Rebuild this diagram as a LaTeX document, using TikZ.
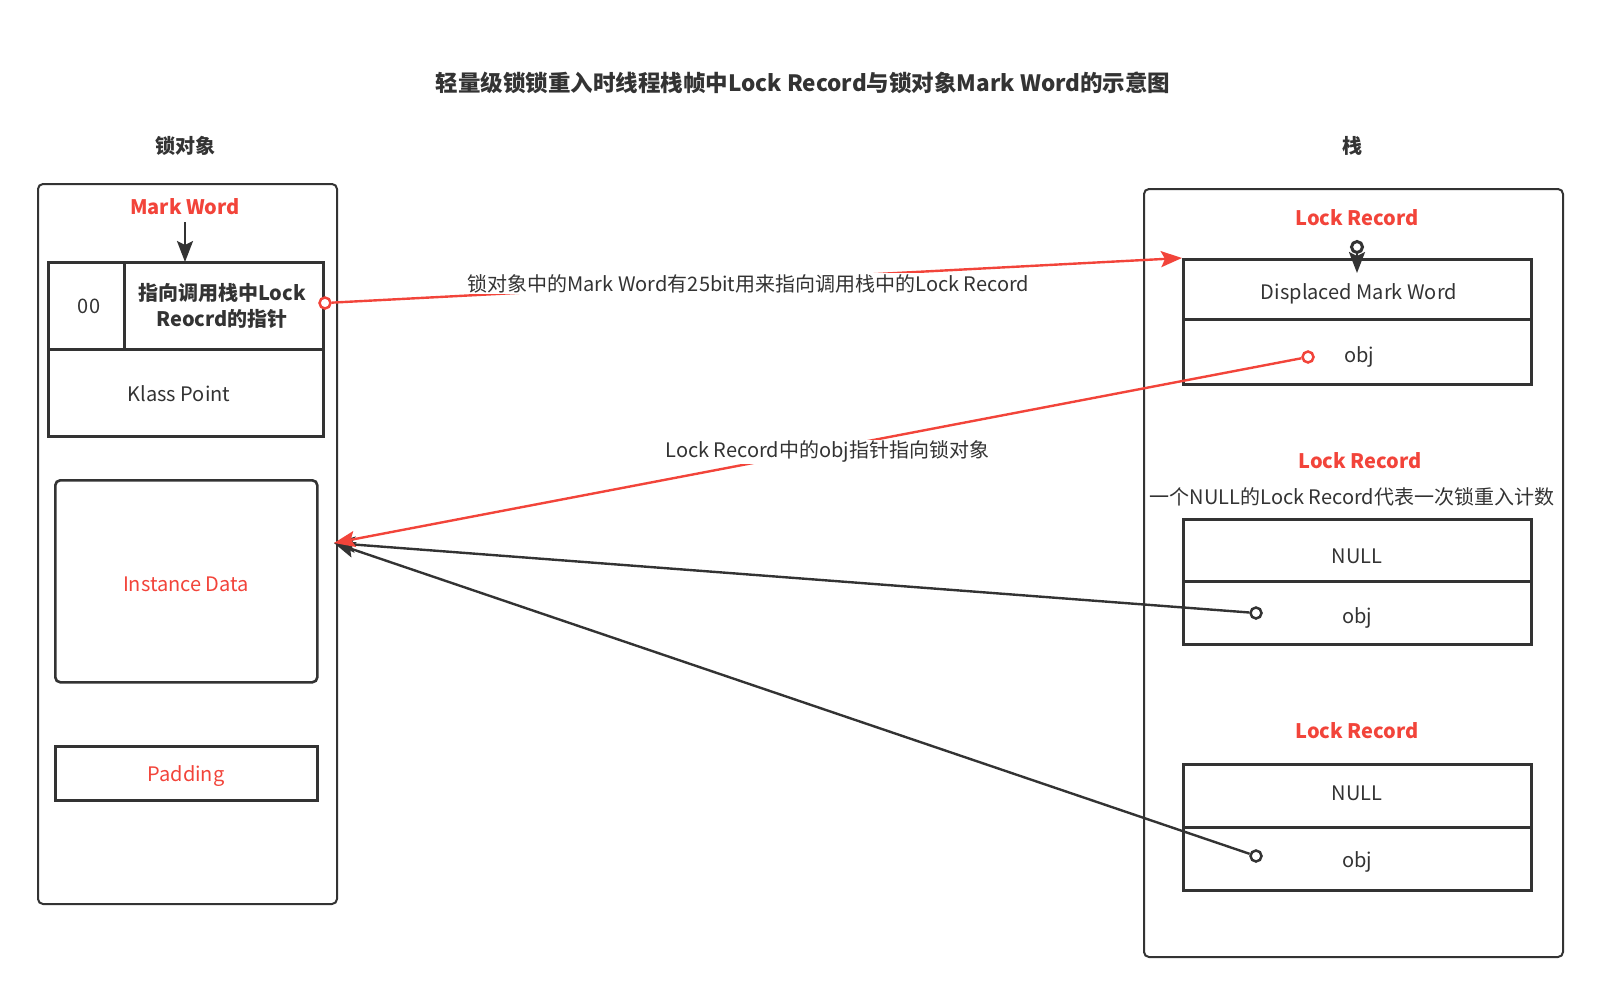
\documentclass[tikz,border=0pt]{standalone}
\usepackage{fontspec}
\setmainfont{Noto Sans CJK SC}
\usetikzlibrary{arrows.meta}
\definecolor{ink}{HTML}{333333}
\definecolor{accent}{HTML}{F2443A}
\begin{document}
\begin{tikzpicture}[x=1pt,y=-1pt,
  every node/.style={font=\fontsize{20}{26}\selectfont, text=ink, inner sep=0pt},
  frame/.style={draw=ink, line width=2pt, rounded corners=5pt, anchor=north west},
  cell/.style={draw=ink, line width=2.6pt, anchor=north west},
  heading/.style={font=\fontsize{20}{26}\selectfont\bfseries},
  redhead/.style={font=\fontsize{20}{26}\selectfont\bfseries, text=accent},
  dot/.style={circle, draw=#1, fill=white, line width=2.5pt, minimum size=11pt},
  link/.style={draw=#1, line width=2.4pt, -{Stealth[length=21pt, width=16pt, inset=4pt]}},
  tag/.style={fill=white, inner sep=1pt, align=center, yshift=-3pt}
]
\useasboundingbox (0,0) rectangle (1598,993);

% title and column headings
\node[font=\fontsize{22.5}{28}\selectfont\bfseries] (title) at (803,83)
  {轻量级锁锁重入时线程栈帧中Lock Record与锁对象Mark Word的示意图};
\node[heading] (objhead) at (185,146) {锁对象};
\node[heading] (stackhead) at (1352,146) {栈};

% ---- lock object ----
\node[frame, minimum width=299pt, minimum height=720pt] (obj) at (37,183) {};
\node[redhead] (mw) at (185,207) {Mark Word};
\node[cell, minimum width=76pt, minimum height=87pt] (flag) at (47,261) {};
\node[cell, minimum width=199pt, minimum height=87pt] (ptr) at (123,261) {};
\node[cell, minimum width=275pt, minimum height=87pt] (klass) at (47,348) {};
\node[frame, line width=2.6pt, minimum width=262pt, minimum height=202pt] (inst) at (54,479) {};
\node[cell, minimum width=262pt, minimum height=54pt] (pad) at (54,745) {};

\node (flagtxt) at (89,306) {00};
\node[align=center, font=\fontsize{20}{26}\selectfont\bfseries] (ptrtxt) at (222,306)
  {指向调用栈中Lock\\Reocrd的指针};
\node (klasstxt) at (179,394) {Klass Point};
\node[text=accent] (insttxt) at (186,584) {Instance Data};
\node[text=accent] (padtxt) at (186,776) {Padding};

\coordinate (mwtip) at (185,262);
\coordinate (target) at (334,543);

% ---- stack ----
\node[frame, minimum width=419pt, minimum height=768pt] (stack) at (1143,188) {};

\node[redhead] (lr1) at (1357,218) {Lock Record};
\node[cell, minimum width=348pt, minimum height=60pt] (dmw) at (1182,258) {};
\node[cell, minimum width=348pt, minimum height=65pt] (obj1) at (1182,318) {};
\node (dmwtxt) at (1359,294) {Displaced Mark Word};
\node (obj1txt) at (1359,357) {obj};

\node[redhead] (lr2) at (1360,461) {Lock Record};
\node (note) at (1352,497) {一个NULL的Lock Record代表一次锁重入计数};
\node[cell, minimum width=348pt, minimum height=62pt] (null2) at (1182,518) {};
\node[cell, minimum width=348pt, minimum height=63pt] (obj2) at (1182,580) {};
\node (null2txt) at (1357,556) {NULL};
\node (obj2txt) at (1357,618) {obj};

\node[redhead] (lr3) at (1357,731) {Lock Record};
\node[cell, minimum width=348pt, minimum height=63pt] (null3) at (1182,763) {};
\node[cell, minimum width=348pt, minimum height=63pt] (obj3) at (1182,826) {};
\node (null3txt) at (1357,793) {NULL};
\node (obj3txt) at (1357,862) {obj};

% pointer ends
\node[dot=accent] (ptrdot) at (325,303) {};
\node[dot=accent] (obj1dot) at (1308,357) {};
\node[dot=ink] (obj2dot) at (1256,613) {};
\node[dot=ink] (obj3dot) at (1256,856) {};
\node[dot=ink, line width=3pt, minimum size=11pt] (pin) at (1357,247) {};
\coordinate (pintip) at (1357,273);

% connectors
\draw[link=ink] (185,222) -- (mwtip);
\draw[link=ink] (pin) -- (pintip);
\draw[link=ink] (obj2dot) -- (target);
\draw[link=ink] (obj3dot) -- (target);
\draw[link=accent] (obj1dot) -- (target)
  node[tag, pos=0.49] (lbl2) {Lock Record中的obj指针指向锁对象};
\draw[link=accent] (ptrdot) -- (dmw.north west)
  node[tag, pos=0.49] (lbl1) {锁对象中的Mark Word有25bit用来指向调用栈中的Lock Record};
\end{tikzpicture}
\end{document}
